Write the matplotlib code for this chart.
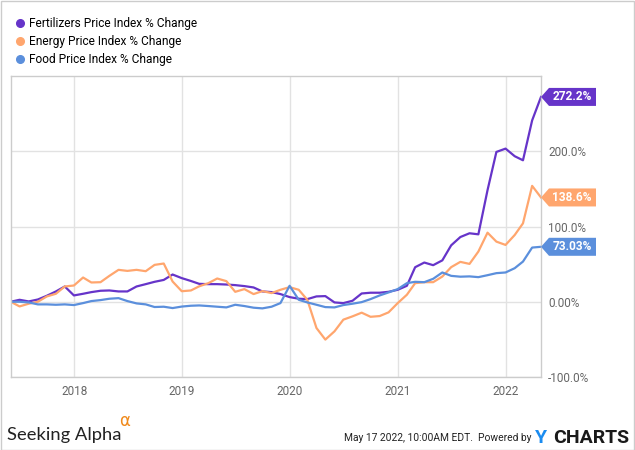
import pandas as pd
import matplotlib
matplotlib.use('Agg')
import matplotlib.pyplot as plt
from matplotlib.lines import Line2D
from matplotlib.patches import Polygon, Rectangle

plt.rcParams['font.family'] = ['Roboto', 'DejaVu Sans']

# monthly values, May 2017 - Apr 2022 (% change)
dates = pd.date_range('2017-05-31', periods=60, freq='ME')

fertilizers = [0, 2.6, 0.4, 3, 7.9, 13.7, 20.3, 8.4, 10.6, 12.8,
               14.6, 15, 13.7, 13.7, 20.3, 23.4, 26.5, 29, 36.2, 31.4,
               27.6, 23.8, 23.4, 23.4, 22.9, 22.1, 20.8, 19, 13.7, 12.8,
               10.2, 6.2, 4, 3.5, 7.1, 7.5, -0.9, -1.8, 1.3, 11,
               12, 12, 13.2, 15.9, 21.2, 45.9, 52.1, 48.6, 55, 75,
               86, 91, 89.6, 148.3, 199.1, 203.5, 193.4, 188, 241, 272.2]

energy = [0, -6.2, -2.6, 0, 7, 10.6, 20.3, 21.6, 32.2, 25.6,
          26, 34.4, 42.4, 41, 42.4, 40.6, 49, 50.8, 26.9, 14,
          15, 20.5, 24.7, 30.9, 27.4, 13.2, 16.8, 10.2, 14.1, 11.5,
          15.9, 19.4, 15.9, 2.6, -34.9, -50.3, -39.3, -23.8, -19.4, -14.5,
          -20, -19, -14.1, -1.8, 9.3, 24.7, 26, 26, 33.5, 46,
          53, 50.3, 66.7, 91.8, 79.9, 75.5, 88.7, 104.2, 154, 138.6]

food = [0, 0, -0.9, -3.5, -3.5, -4, -3.5, -4.4, -1.8, 0.9,
        2.2, 4, 4.8, 0.9, -2.2, -3.5, -7, -6.6, -8.4, -6.4,
        -5.3, -4.9, -5.7, -6.6, -7.5, -4, -5.7, -7.9, -8.8, -6.6,
        -1.8, 21.2, 2.6, -0.9, -4, -7.1, -7.5, -4.4, -2.6, -0.5,
        3.5, 8.4, 12.4, 16.8, 24.7, 26.5, 26, 30.5, 38.9, 34.4,
        33.3, 33.7, 32.7, 35.3, 38, 38.9, 44.6, 53.4, 72, 73.03]

names = ['Fertilizers Price Index % Change',
         'Energy Price Index % Change',
         'Food Price Index % Change']
colors = ['#6634c9', '#ffa66e', '#5b8fdc']
flag_labels = ['272.2%', '138.6%', '73.03%']
y_ticks = [-100, 0, 100, 200]
y_tick_labels = ['-100.0%', '0.00%', '100.0%', '200.0%']
x_ticks = pd.to_datetime(['2018-01-01', '2019-01-01', '2020-01-01', '2021-01-01', '2022-01-01'])
x_tick_labels = ['2018', '2019', '2020', '2021', '2022']

W, H = 635, 450
fig = plt.figure(figsize=(6.35, 4.5), dpi=100)
ax = fig.add_axes([10.7 / W, (H - 377) / H, (541 - 10.7) / W, (377 - 76) / H])

series = [fertilizers, energy, food]
for vals, c in zip(series, colors):
    ax.plot(dates, vals, color=c, lw=1.6, solid_joinstyle='round')

ax.set_xlim(dates[0], dates[-1])
ax.set_ylim(-100, 300)
ax.set_yticks(y_ticks)
ax.set_yticklabels(y_tick_labels)
ax.set_xticks(x_ticks)
ax.set_xticklabels(x_tick_labels)
ax.yaxis.tick_right()
ax.tick_params(axis='both', length=0, labelsize=8.5, colors='#666666')
ax.tick_params(axis='y', pad=5)
ax.tick_params(axis='x', pad=6)
ax.grid(True, color='#e2e2e2', lw=1)
ax.set_axisbelow(True)
for s in ax.spines.values():
    s.set_color('#cccccc')
    s.set_linewidth(1)

# flags at last value
fig.canvas.draw()
for vals, c, lab in zip(series, colors, flag_labels):
    xd, yd = ax.transData.transform((matplotlib.dates.date2num(dates[-1]), vals[-1]))
    x0 = xd
    x1 = x0 + 55
    h = 9
    pts = [(x0, yd), (x0 + 8, yd + h), (x1, yd + h), (x1, yd - h), (x0 + 8, yd - h)]
    pts = [fig.transFigure.inverted().transform(p) for p in pts]
    fig.patches.append(Polygon(pts, closed=True, transform=fig.transFigure,
                               facecolor=c, edgecolor='none', zorder=5))
    xc, yc = fig.transFigure.inverted().transform((x0 + 31, yd))
    fig.text(xc, yc, lab, color='white', fontsize=8.6, fontweight='bold',
             ha='center', va='center', zorder=6)

# legend
handles = [Line2D([], [], marker='o', ls='none', color=c, markersize=5.5) for c in colors]
fig.legend(handles, names, loc='upper left', bbox_to_anchor=(16 / W, 1 - 17 / H),
           frameon=False, fontsize=8.6, handlelength=0.7, handletextpad=0.4,
           labelspacing=0.42, borderaxespad=0, borderpad=0)

# footer
fig.text(7 / W, 1 - 440 / H, 'Seeking Alpha', fontsize=13.2, family=['Lato', 'DejaVu Sans'],
         color='#222222', ha='left', va='baseline')
fig.text(119 / W, 1 - 426 / H, 'α', fontsize=12, color='#f08a1c', ha='left', va='baseline',
         family=['DejaVu Sans'])
fig.text(531 / W, 1 - 441 / H, 'May 17 2022, 10:00AM EDT.  Powered by', fontsize=7.4,
         family=['Liberation Sans Narrow', 'Roboto'], color='#222222', ha='right', va='baseline')
fig.text(535 / W, 1 - 443 / H, 'Y', fontsize=14, fontweight='bold', color='#1b8cf0',
         ha='left', va='baseline')
fig.text(629 / W, 1 - 443 / H, 'CHARTS', fontsize=14, fontweight='bold', color='#1a1a1a',
         ha='right', va='baseline')

fig.patches.append(Rectangle((0.5 / W, 0.5 / H), 1 - 1.5 / W, 1 - 1.5 / H, transform=fig.transFigure,
                             fill=False, edgecolor='#cccccc', lw=1))

fig.savefig('out.png', dpi=100)
